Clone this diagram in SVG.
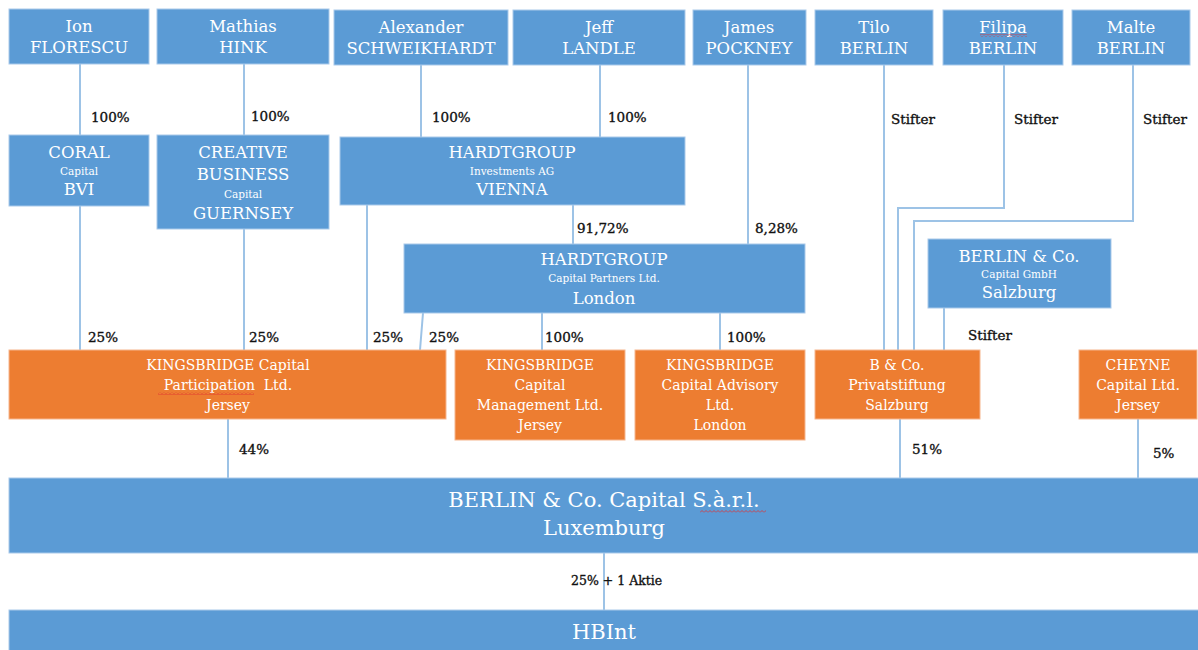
<svg xmlns="http://www.w3.org/2000/svg" width="1198" height="650" viewBox="0 0 1198 650">
<style>
.b{fill:#5B9BD5;stroke:#A9C9EA;stroke-width:1}
.o{fill:#ED7D31;stroke:#F6B68E;stroke-width:1}
.t{font-family:"DejaVu Serif","Liberation Serif",serif;fill:#fff;text-anchor:middle}
.n{font-size:16.5px}
.m{font-size:14px}
.s{font-size:10.5px}
.l{font-family:"DejaVu Serif","Liberation Serif",serif;font-size:13.5px;fill:#111;stroke:#111;stroke-width:0.35}
.c{stroke:#9DC3E6;stroke-width:2;fill:none}
</style>
<defs>
<pattern id="wavy" width="4" height="3" patternUnits="userSpaceOnUse"><polyline points="0,2.5 2,0.5 4,2.5" fill="none" stroke="#e03030" stroke-width="0.8"/></pattern>
</defs>
<g id="connectors">
<path class="c" d="M80 64V135M244 64V135M421 65V137M600 65V137M748 65V244M884 65V350M1004 65V208H898V350M1133 65V221H914V350M80 206V350M244 229V350M367 205V350M573 205V244M423 313L420 350M542 313V350M720 313V350M944 308V350M228 419V478M900 419V478M1138 419V478M604 553V610"/>
</g>
<g id="labels">
<text class="l" x="91" y="122">100%</text>
<text class="l" x="251" y="121">100%</text>
<text class="l" x="432" y="122">100%</text>
<text class="l" x="608" y="122">100%</text>
<text class="l" x="577" y="233">91,72%</text>
<text class="l" x="755" y="233">8,28%</text>
<text class="l" x="891" y="124">Stifter</text>
<text class="l" x="1014" y="124">Stifter</text>
<text class="l" x="1143" y="124">Stifter</text>
<text class="l" x="968" y="340">Stifter</text>
<text class="l" x="88" y="342">25%</text>
<text class="l" x="249" y="342">25%</text>
<text class="l" x="373" y="342">25%</text>
<text class="l" x="429" y="342">25%</text>
<text class="l" x="545" y="342">100%</text>
<text class="l" x="727" y="342">100%</text>
<text class="l" x="239" y="454">44%</text>
<text class="l" x="912" y="454">51%</text>
<text class="l" x="1153" y="458">5%</text>
<text class="l" x="571" y="585" style="font-size:12.5px">25% + 1 Aktie</text>
</g>
<g id="ion"><rect class="b" x="9" y="9" width="140" height="55"/><text class="t n" x="79" y="32">Ion</text><text class="t n" x="79" y="53">FLORESCU</text></g>
<g id="mathias"><rect class="b" x="157" y="9" width="172" height="55"/><text class="t n" x="243" y="32">Mathias</text><text class="t n" x="243" y="53">HINK</text></g>
<g id="alexander"><rect class="b" x="334" y="10" width="174" height="55"/><text class="t n" x="421" y="33">Alexander</text><text class="t n" x="421" y="54">SCHWEIKHARDT</text></g>
<g id="jeff"><rect class="b" x="513" y="10" width="172" height="55"/><text class="t n" x="599" y="33">Jeff</text><text class="t n" x="599" y="54">LANDLE</text></g>
<g id="james"><rect class="b" x="693" y="10" width="113" height="55"/><text class="t n" x="749" y="33">James</text><text class="t n" x="749" y="54">POCKNEY</text></g>
<g id="tilo"><rect class="b" x="815" y="10" width="118" height="55"/><text class="t n" x="874" y="33">Tilo</text><text class="t n" x="874" y="54">BERLIN</text></g>
<g id="filipa"><rect class="b" x="943" y="10" width="120" height="55"/><text class="t n" x="1003" y="33">Filipa</text><text class="t n" x="1003" y="54">BERLIN</text><rect x="980" y="34" width="47" height="3" fill="url(#wavy)"/></g>
<g id="malte"><rect class="b" x="1072" y="10" width="118" height="55"/><text class="t n" x="1131" y="33">Malte</text><text class="t n" x="1131" y="54">BERLIN</text></g>
<g id="coral"><rect class="b" x="9" y="135" width="140" height="71"/><text class="t n" x="79" y="158">CORAL</text><text class="t s" x="79" y="175">Capital</text><text class="t n" x="79" y="195">BVI</text></g>
<g id="creative"><rect class="b" x="157" y="135" width="172" height="94"/><text class="t n" x="243" y="158">CREATIVE</text><text class="t n" x="243" y="180">BUSINESS</text><text class="t s" x="243" y="198">Capital</text><text class="t n" x="243" y="219">GUERNSEY</text></g>
<g id="hardt-inv"><rect class="b" x="340" y="137" width="345" height="68"/><text class="t n" x="512" y="158">HARDTGROUP</text><text class="t s" x="512" y="175">Investments AG</text><text class="t n" x="512" y="195">VIENNA</text></g>
<g id="hardt-cap"><rect class="b" x="404" y="244" width="401" height="69"/><text class="t n" x="604" y="265">HARDTGROUP</text><text class="t s" x="604" y="282">Capital Partners Ltd.</text><text class="t n" x="604" y="304">London</text></g>
<g id="berlin-gmbh"><rect class="b" x="928" y="239" width="183" height="69"/><text class="t n" x="1019" y="262">BERLIN &amp; Co.</text><text class="t s" x="1019" y="278">Capital GmbH</text><text class="t n" x="1019" y="298">Salzburg</text></g>
<g id="kb-participation"><rect class="o" x="9" y="350" width="437" height="69"/><text class="t m" x="228" y="370">KINGSBRIDGE Capital</text><text class="t m" x="228" y="390">Participation&#160; Ltd.</text><text class="t m" x="228" y="410">Jersey</text><rect x="158" y="392" width="96" height="3" fill="url(#wavy)"/></g>
<g id="kb-management"><rect class="o" x="455" y="350" width="170" height="90"/><text class="t m" x="540" y="370">KINGSBRIDGE</text><text class="t m" x="540" y="390">Capital</text><text class="t m" x="540" y="410">Management Ltd.</text><text class="t m" x="540" y="430">Jersey</text></g>
<g id="kb-advisory"><rect class="o" x="635" y="350" width="170" height="90"/><text class="t m" x="720" y="370">KINGSBRIDGE</text><text class="t m" x="720" y="390">Capital Advisory</text><text class="t m" x="720" y="410">Ltd.</text><text class="t m" x="720" y="430">London</text></g>
<g id="bco"><rect class="o" x="815" y="350" width="165" height="69"/><text class="t m" x="897" y="370">B &amp; Co.</text><text class="t m" x="897" y="390">Privatstiftung</text><text class="t m" x="897" y="410">Salzburg</text></g>
<g id="cheyne"><rect class="o" x="1079" y="350" width="118" height="69"/><text class="t m" x="1138" y="370">CHEYNE</text><text class="t m" x="1138" y="390">Capital Ltd.</text><text class="t m" x="1138" y="410">Jersey</text></g>
<g id="berlin-sarl"><rect class="b" x="9" y="478" width="1195" height="75"/><text class="t" x="604" y="507" style="font-size:21px">BERLIN &amp; Co. Capital S.à.r.l.</text><text class="t" x="604" y="535" style="font-size:21px">Luxemburg</text><rect x="700" y="510" width="66" height="3" fill="url(#wavy)"/></g>
<g id="hbint"><rect class="b" x="9" y="610" width="1195" height="45"/><text class="t" x="604" y="639" style="font-size:21px">HBInt</text></g>
</svg>
